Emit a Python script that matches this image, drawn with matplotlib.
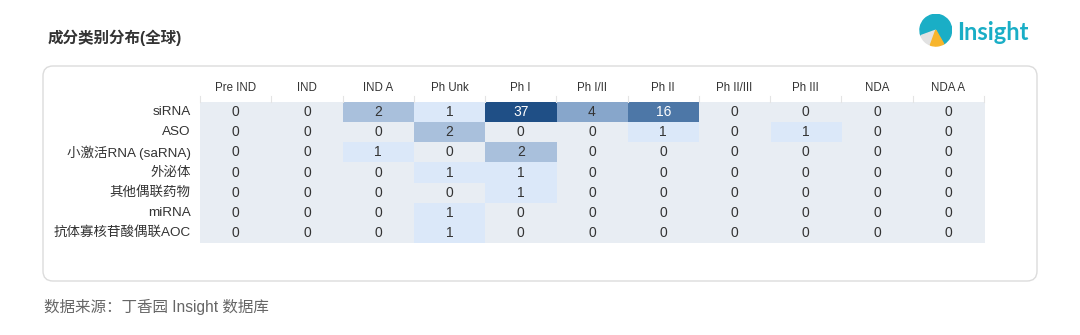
import matplotlib.pyplot as plt
import numpy as np
from matplotlib.colors import LinearSegmentedColormap
from matplotlib.patches import FancyBboxPatch, Wedge

plt.rcParams["font.family"] = ["Liberation Sans", "Noto Sans CJK SC", "DejaVu Sans"]

# Data
stages = ["Pre IND", "IND", "IND A", "Ph Unk", "Ph I", "Ph I/II", "Ph II",
          "Ph II/III", "Ph III", "NDA", "NDA A"]
categories = ["siRNA", "ASO", "小激活RNA (saRNA)", "外泌体", "其他偶联药物",
              "miRNA", "抗体寡核苷酸偶联AOC"]
counts = np.array([
    [0, 0, 2, 1, 37, 4, 16, 0, 0, 0, 0],
    [0, 0, 0, 2, 0, 0, 1, 0, 1, 0, 0],
    [0, 0, 1, 0, 2, 0, 0, 0, 0, 0, 0],
    [0, 0, 0, 1, 1, 0, 0, 0, 0, 0, 0],
    [0, 0, 0, 0, 1, 0, 0, 0, 0, 0, 0],
    [0, 0, 0, 1, 0, 0, 0, 0, 0, 0, 0],
    [0, 0, 0, 1, 0, 0, 0, 0, 0, 0, 0],
])

W, H = 1080, 335
fig = plt.figure(figsize=(W / 100, H / 100), dpi=100)
fig.patch.set_facecolor("white")

# rounded card behind the table
card = FancyBboxPatch((0.43, 0.54), 9.94, 2.15,
                      boxstyle="round,pad=0,rounding_size=0.1",
                      transform=fig.dpi_scale_trans, facecolor="white",
                      edgecolor="#dcdcdc", linewidth=1, zorder=-10)
fig.patches.append(card)

# heatmap colours on a log1p scale
z = np.log1p(counts)
zmax = z.max()
anchors = [0, 1, 2, 4, 16, 37]
cols = ["#e8edf3", "#dbe8fa", "#a9c0dc", "#88a7cc", "#4e78a8", "#1f4f86"]
cmap = LinearSegmentedColormap.from_list(
    "ins", [(np.log1p(a) / zmax, c) for a, c in zip(anchors, cols)])

ax = fig.add_axes([200 / W, 1 - 243 / H, 784 / W, 141 / H])
ax.imshow(z, cmap=cmap, vmin=0, vmax=zmax, aspect="auto",
          interpolation="nearest")
ax.set_xlim(-0.5, len(stages) - 0.5)
ax.set_ylim(len(categories) - 0.5, -0.5)
ax.axis("off")

for i in range(len(categories)):
    for j in range(len(stages)):
        v = counts[i, j]
        ax.text(j, i, str(v), ha="center", va="center", fontsize=10,
                color="white" if v >= 10 else "#333333")

for j, s in enumerate(stages):
    ax.text(j, -1.2, s, ha="center", va="center", fontsize=8.3,
            color="#333333", clip_on=False)
for j in range(len(stages) + 1):
    ax.plot([j - 0.5, j - 0.5], [-0.78, -0.5], color="#e4e4e4", lw=0.8,
            clip_on=False)

for i, c in enumerate(categories):
    ax.text(-0.63, i, c, ha="right", va="center", fontsize=9.7,
            color="#333333", clip_on=False)

# title and footer
fig.text(48 / W, 1 - 38 / H, "成分类别分布(全球)", fontsize=11.2,
         fontweight="bold", color="#333333", va="center")
fig.text(44 / W, 1 - 307 / H, "数据来源：丁香园 Insight 数据库", fontsize=11.2,
         color="#666666", va="center")

# logo
lax = fig.add_axes([916 / W, 1 - 50 / H, 36 / W, 36 / H])
lax.set_xlim(-1, 1)
lax.set_ylim(-1, 1)
lax.set_aspect("equal")
lax.axis("off")
lax.add_patch(Wedge((0.1, 0.1), 0.88, -60, 200, color="#1aaec6"))
lax.add_patch(Wedge((0.1, 0.1), 0.88, 200, 250, color="#e2e2e2"))
lax.add_patch(Wedge((0.1, 0.1), 0.88, 250, 300, color="#f7b52c"))
fig.text(957 / W, 1 - 32 / H, "Insight", fontsize=17, fontweight="bold",
         color="#1aaec6", va="center", family=["Lato", "DejaVu Sans"])

fig.savefig("out.png", dpi=100, facecolor="white")
